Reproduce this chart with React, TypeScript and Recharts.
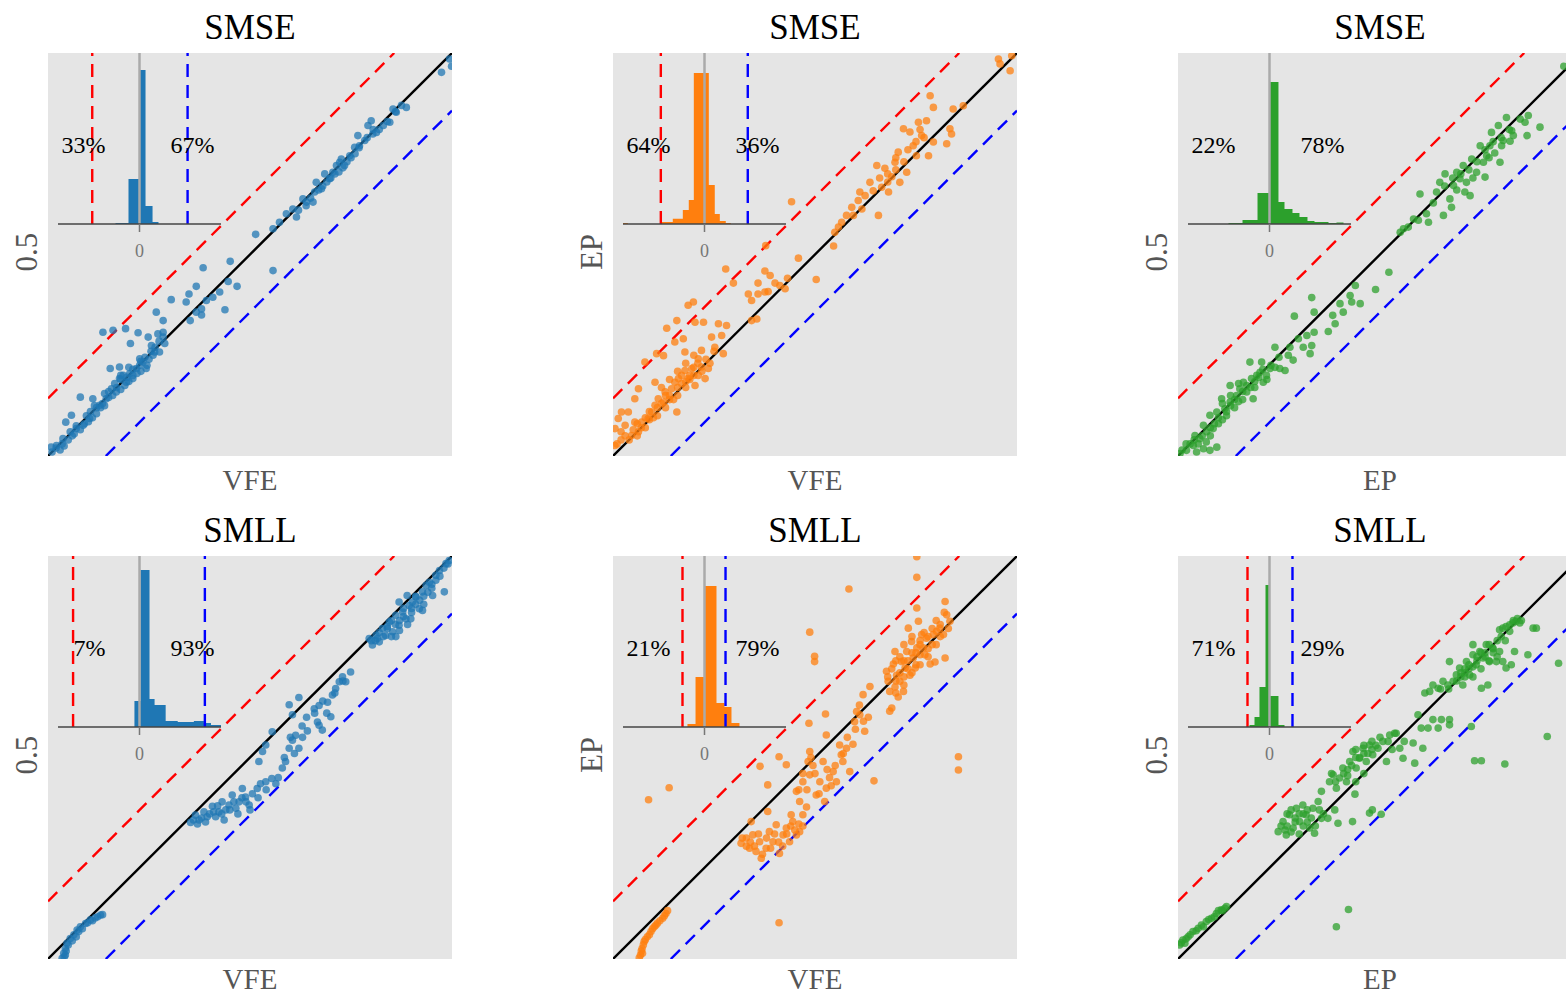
import { Area, ComposedChart, ReferenceLine, Scatter, ScatterChart, XAxis, YAxis } from 'recharts';

const BAND = 14.3;

const rowTitles = ['SMSE', 'SMLL'];
const xLabels = ['VFE', 'VFE', 'EP'];
const yLabels = ['0.5', 'EP', '0.5'];

const smseShares = [
  [33, 67],
  [64, 36],
  [22, 78],
];
const smllShares = [
  [7, 93],
  [21, 79],
  [71, 29],
];

// histogram bins of the inset: [from, to, height], x in [-1, 1], height in [0, 1]
const smseBlueHist = [[-0.294, -0.135, 0.006], [-0.135, 0, 0.263], [0, 0.074, 0.9], [0.074, 0.16, 0.105], [0.16, 0.233, 0.012]];
const smseOrangeHist = [
  [-1, -0.94, 0.006], [-0.524, -0.389, 0.012], [-0.389, -0.266, 0.03], [-0.266, -0.193, 0.082], [-0.193, -0.131, 0.14],
  [-0.131, 0.053, 0.883], [0.053, 0.126, 0.228], [0.126, 0.188, 0.058], [0.188, 0.261, 0.018], [0.261, 0.323, 0.006],
];
const smseGreenHist = [
  [-0.503, -0.331, 0.006], [-0.331, -0.147, 0.023], [-0.147, 0, 0.181], [0, 0.11, 0.83], [0.11, 0.184, 0.129],
  [0.184, 0.282, 0.088], [0.282, 0.368, 0.064], [0.368, 0.466, 0.041], [0.466, 0.552, 0.018], [0.552, 0.724, 0.012],
  [0.724, 0.822, 0.006], [0.822, 0.908, 0.009],
];
const smllBlueHist = [
  [-0.062, 0.012, 0.152], [0.012, 0.123, 0.918], [0.123, 0.185, 0.164], [0.185, 0.321, 0.129], [0.321, 0.469, 0.035],
  [0.469, 0.667, 0.029], [0.667, 0.79, 0.035], [0.79, 0.877, 0.023], [0.877, 1, 0.012],
];
const smllOrangeHist = [[-0.209, -0.11, 0.018], [-0.11, 0, 0.292], [0, 0.147, 0.825], [0.147, 0.245, 0.14], [0.245, 0.331, 0.117], [0.331, 0.429, 0.023]];
const smllGreenHist = [[-0.245, -0.184, 0.012], [-0.184, -0.123, 0.058], [-0.123, -0.049, 0.234], [-0.049, 0, 0.83], [0, 0.11, 0.181], [0.11, 0.184, 0.012]];

// dashed thresholds inside the insets
const smseBlueCuts = [-0.58, 0.59];
const smseOrangeCuts = [-0.536, 0.531];
const smseGreenCuts: number[] = [];
const smllBlueCuts = [-0.815, 0.802];
const smllOrangeCuts = [-0.27, 0.258];
const smllGreenCuts = [-0.27, 0.282];

const smseBluePts = [
  [0.8, 2.2], [2.1, 2.6], [3.7, 4.3], [4.4, 8.4], [5.8, 10.1], [7, 6.8], [8.7, 7.6], [10.3, 9.3], [11.1, 14.2], [12.8, 12.6],
  [14.4, 14.2], [15.7, 16.7], [16.9, 15.9], [17.7, 19.2], [18.6, 20], [19.4, 18.3], [20.2, 20.4], [21, 19.2], [21.9, 21.7],
  [22.7, 22.5], [23.5, 23.3], [24.3, 21.7], [8, 14.6], [15.4, 21.7], [17.7, 22.1], [13.6, 30.7], [16.1, 31.2], [19.2, 31.6],
  [22.3, 30.6], [20.4, 27.9], [24.8, 29.5], [26.8, 35.7], [28.5, 33.6], [27.2, 30.3], [28.5, 30.7], [25.6, 27.4], [27.6, 25.8],
  [28.9, 27.9], [26.4, 25.8], [22.7, 24.1], [1, 1], [3, 1.5], [4, 2.5], [5, 4], [6, 5], [9, 8], [12, 10.5], [13, 12], [18, 16.5],
  [19, 17.5], [21, 20], [23, 21], [25, 24], [26, 25], [11, 9.5], [14, 12.5], [16, 15], [20, 18.5], [6.5, 5.5], [10, 8.5],
  [2, 2], [3.5, 3], [5.5, 6], [7, 7.5], [8, 6.5], [9.5, 10], [10.5, 11], [12, 12], [13.5, 13], [15, 14.5], [15, 16], [17, 17],
  [18, 19], [19.5, 19.5], [21, 21.5], [22, 20.5], [23, 23.5], [24, 24.5], [25.5, 26], [24.5, 22.5], [20, 22], [18, 20],
  [16.5, 18], [14, 15.5], [11.5, 12.5], [26.5, 27], [27.5, 28.5], [28.5, 29.5],
  [30.5, 38.8], [34.2, 38.2], [34.9, 40.2], [36.7, 42.1], [38.4, 46.7], [45.1, 48.3], [44.6, 43.3], [46.8, 42.1], [42.5, 40.7],
  [40.8, 39.4], [39.2, 38.6], [38, 36.5], [36.7, 35.7], [35.2, 33.6], [38, 35], [43.8, 36.3], [55.7, 46], [51.4, 55],
  [55.7, 56.4], [57.3, 58], [59, 60.1], [61.5, 59.3], [60.6, 61.3], [63.1, 63.8], [63.9, 62.1], [65.6, 63], [66.4, 67.9],
  [67.7, 66.3], [68.5, 70], [69.7, 68.8], [70.5, 70.4], [71.4, 72.1], [72.2, 72.9], [72.6, 73.7], [73.4, 72.1], [74.7, 74.5],
  [75.9, 76.6], [76.7, 79.5], [77.1, 77], [78.4, 78.3], [79.2, 82], [80, 83.2], [80.4, 79.9], [81.3, 80.3], [84.6, 82.8],
  [85.4, 86.1], [86.2, 85.3], [88.7, 86.5], [97.4, 95.2], [99.4, 98.5], [99.9, 96.7], [65, 64], [68, 67], [70, 69], [72, 70.5],
  [74, 73], [76, 75], [82, 81], [84, 83], [67, 66], [69, 68], [71, 70], [73, 71.5], [75, 74], [77, 76.5], [79, 79], [80.5, 81],
  [83, 82], [86, 85.5], [87.5, 87], [62, 61], [64, 63], [66, 65.5],
];

const smseOrangePts = [
  [0.5, 2.6], [0.5, 6.8], [1.3, 9.3], [2.1, 10.9], [3.8, 10.9], [5.4, 14.2], [3, 7.6], [4.6, 5.1], [6.3, 6], [7.1, 8.4],
  [8.7, 9.3], [9.6, 10.9], [10.4, 12.6], [11.2, 14.2], [12.5, 13.4], [12.9, 15.9], [14.5, 16.7], [15.3, 18.3], [16.2, 19.2],
  [17, 20], [17.8, 21.2], [18.6, 19.2], [19.5, 21.7], [20.3, 17.5], [21.1, 20], [21.9, 22.1], [22.8, 19.2], [23.6, 21.7],
  [15.8, 10.9], [10.4, 18.3], [7.9, 23.3], [10.8, 25.4], [12.5, 24.9], [15.3, 28.3], [17.4, 29.1], [13.3, 31.7], [15.8, 33.6],
  [17.8, 25.8], [20.3, 33.2], [22.4, 33.2], [19.9, 38.2], [18.6, 37.4], [21.1, 24.1], [21.9, 26.2], [24.4, 29.5], [26.1, 32.8],
  [26.9, 29.9], [28.1, 32.4], [25.2, 27], [27.3, 25.4], [6.3, 16.7], [5.4, 8.4], [2, 4], [4, 4], [6, 5], [8, 7], [9, 9],
  [11, 10], [13, 12], [14, 14], [16, 15], [18, 17], [19, 19], [20, 20],
  [1, 3], [2, 6], [3, 5], [5, 6.5], [6, 8], [7, 7], [8, 9.5], [9, 11], [10, 9.5], [11, 12], [12, 13], [13, 15], [14, 15],
  [15, 14], [16, 17], [17, 18], [18, 18.5], [19, 20], [20, 22], [21, 23], [22, 21], [23, 24], [24, 23], [25, 26], [12, 17],
  [14, 19], [16, 21], [18, 23], [20, 25],
  [27.9, 46.4], [29.8, 42.9], [34.3, 33.6], [35.6, 34], [33.5, 40.2], [34.3, 38.6], [35.9, 40.2], [35.9, 42.9], [37.6, 45.9],
  [38.9, 44.8], [37.6, 40.7], [38.4, 40.8], [40.1, 42.9], [41.3, 42.3], [42.6, 41.5], [43.2, 44.1], [45.9, 49.1], [50.3, 43.8],
  [37.8, 52.2], [44.2, 63.1],
  [54.6, 52.1], [54.9, 55.5], [55.8, 56.8], [56.6, 58], [57.8, 59.7], [59.1, 61.7], [59.5, 59.7], [60.7, 63.4], [61.6, 61.3],
  [61.1, 65.5], [62.4, 64.6], [63.6, 67.9], [64.4, 65.8], [65.3, 72.1], [65.7, 59.7], [66.5, 66.7], [67.3, 71.4], [68.2, 65.5],
  [69, 69.3], [69.8, 72.9], [70.6, 75.4], [71, 67.9], [71.9, 81.2], [72.7, 70.4], [73.5, 80.4], [74.3, 77], [75.1, 74.5],
  [75.6, 82.8], [76.4, 79.5], [77.6, 83.2], [78.5, 89.4], [79.3, 86.5], [79.3, 77.9], [78.1, 74.5], [82.6, 77.5], [83.4, 81.2],
  [83.8, 79.9], [84.2, 86.1], [86.7, 86.9], [95.4, 98.5], [95.8, 97.3], [98.3, 95.6], [98.7, 99.3],
  [66, 69], [68, 68], [70, 71], [72, 73], [73, 76], [75, 78], [76, 81], [77, 79], [70, 74], [68, 70],
];

const smseGreenPts = [
  [0.5, 0.6], [2.1, 1.4], [3.8, 2.6], [4.6, 1], [6.3, 1.8], [7.9, 1.4], [9.6, 2.2], [5.4, 4.3], [4.2, 5.1], [7.1, 6], [6.3, 7.6],
  [8.7, 6.8], [7.9, 10.1], [9.6, 10.9], [10.8, 14.2], [11.6, 11.7], [12.9, 13.4], [12.9, 17.5], [14.5, 15], [15.3, 16.7],
  [16.2, 18.3], [17, 15.9], [18.2, 19.2], [18.6, 14.2], [19.5, 20], [20.3, 20.8], [21.1, 18.3], [21.9, 20], [22.8, 21.7],
  [20.7, 23.3], [17.8, 23.3], [24, 27], [25.2, 21.7], [26.5, 21.2], [27.3, 25], [27.7, 27], [28.5, 23.8], [29.8, 29.1],
  [31, 27], [31.9, 29.9], [32.7, 25.4], [33.1, 27.4], [33.7, 30.7], [37.2, 30.9], [28.8, 34.7], [33.1, 39.3], [33.7, 35.7],
  [38.3, 34.9], [38.9, 32.8], [40.1, 37.8], [40.9, 35.7], [42.6, 39.8], [43, 38.2], [43.9, 42.3], [45.1, 37.8], [48.9, 41.3],
  [52.2, 45.6], [3, 3], [5, 3], [8, 5], [10, 8], [12, 10], [14, 12], [16, 14], [19, 17],
  [1, 1.5], [2, 3], [4, 4], [6, 5], [7, 3.5], [8, 7], [9, 8], [10, 9.5], [11, 9], [12, 11], [13, 12.5], [14, 14], [15, 13.5],
  [16, 16], [17, 17.5], [18, 17], [19, 18.5], [20, 19.5], [21, 21.5], [22, 19], [23, 22.5], [24, 22], [25, 24.5], [11, 13],
  [13, 15], [15, 18],
  [55, 55.5], [55.8, 56.4], [57, 56.8], [58.3, 58.8], [59.5, 58.5], [59.9, 65], [62, 58], [61.5, 60.1], [63.2, 62.8],
  [64, 65.5], [64.8, 67.9], [65.7, 59.7], [66.1, 70], [67.3, 63.8], [67.7, 61.7], [68.2, 67.1], [69, 70.4], [69.8, 68.8],
  [70.6, 72.1], [71, 65.5], [71.4, 67.9], [72.3, 64.6], [72.7, 73.7], [73.9, 70.4], [74.8, 77], [75.6, 72.9], [76, 69.2],
  [76.4, 74.5], [77.2, 77], [77.6, 80.3], [78.4, 75.2], [79.3, 82], [79.7, 72.9], [80.1, 77], [80.5, 78.3], [81.3, 84],
  [82.2, 78.1], [82.6, 80.7], [83, 79.5], [84.7, 83.6], [85.9, 82.8], [86.4, 79.5], [86.7, 84.5], [89.6, 81.6], [95.5, 96.7],
  [66, 67], [68, 69], [70, 70], [72, 71], [74, 73], [76, 76], [78, 78], [80, 79], [82, 81], [69, 66], [73, 69], [77, 74],
];

const smllBluePts = [
  [3.5, 0.2], [3.9, 1.4], [4.3, 2.6], [4.7, 3.9], [5.5, 5.1], [6.4, 6], [7.2, 7.2], [8, 8], [9.3, 8.8], [10.5, 9.7],
  [11.7, 10.2], [13, 10.9], [7.6, 6.8], [4.3, 1], [4, 0.5], [4.5, 2], [5, 3.5], [6, 4.5], [7, 5.5], [8.5, 7.5], [9.8, 9],
  [11, 9.5], [12.3, 10.5], [13.5, 11],
  [35.3, 33.9], [36.5, 35.7], [37.4, 34.5], [38.6, 36.5], [39.4, 35.3], [40.7, 37.9], [41.5, 35.3], [42.3, 36.5], [43.1, 39],
  [43.6, 34.5], [44.8, 38.2], [45.6, 40.7], [46.5, 37.4], [47.3, 39], [48.1, 42.3], [48.9, 40.2], [49.8, 38.2], [50.6, 41],
  [51.8, 42.3], [52.6, 43.5], [53.9, 44], [55.4, 44.8], [56.4, 43.5], [52.2, 49], [53.1, 51.5], [53.9, 53.1], [55.5, 56.4],
  [58, 47.4], [58.8, 49], [59.7, 52.3], [60.5, 54.3], [61.3, 55.5], [62.1, 52.3], [62.9, 57.8], [64.2, 56.6], [59.7, 63.1],
  [60.5, 60.6], [62.1, 64.9], [65.9, 62.1], [66.7, 58.8], [67.1, 62.9], [67.9, 56.8], [69.2, 63.7], [70, 60.1], [70.4, 65.5],
  [71.2, 67.1], [72.1, 68.8], [72.9, 70], [73.7, 68.8], [74.9, 71.2], [67.1, 58], [38, 35], [40, 36], [42, 38], [44, 37],
  [46, 39], [48, 40], [36, 34.5], [37, 33.5], [39, 34], [41, 36.5], [43, 36], [45, 37], [47, 36], [49, 39], [50, 37], [52, 40],
  [54, 42], [57, 45], [58.5, 50], [60, 55], [61, 51], [63, 55], [64, 60], [66, 61], [68, 64], [69, 61], [71, 66], [73, 69],
  [79.5, 79.5], [80.3, 77.9], [81.2, 80.3], [82, 78.7], [82.8, 82], [83.6, 80.3], [84.5, 83.6], [85.3, 81.2], [86.1, 85.3],
  [86.1, 80], [86.9, 82.8], [87.8, 86.1], [88.6, 84.4], [89.4, 87.7], [89.8, 84.4], [90.2, 88.6], [91.1, 89.8], [91.9, 86.9],
  [92.7, 91.1], [92.7, 86.5], [93.6, 92.7], [94.4, 93.5], [95.2, 90.2], [96, 95.2], [96.9, 96.4], [98.1, 91.1], [98.5, 98.1],
  [99.3, 98.9], [86.9, 88.6], [88.9, 90.2], [81, 79], [84, 82], [87, 84], [90, 87], [93, 90], [95, 93], [80, 79], [81.5, 79.5],
  [83, 80], [84, 82.5], [85, 80], [86, 83], [87, 81.5], [88, 85], [89, 83], [90, 86], [91, 88], [92, 89], [93, 88], [94, 91],
  [95, 92], [96, 94], [97, 95], [98, 97], [99, 98], [82, 81], [85, 84], [88, 87], [91, 90],
];

const smllOrangePts = [
  [6.5, 0.3], [7.2, 2.6], [7.7, 4.3], [8.5, 5.5], [9.4, 6.8], [10.2, 8], [11, 8.9], [12.3, 10.1], [13.1, 11.3], [7.3, 1.4],
  [6.8, 1], [7, 2], [7.5, 3.5], [8, 4.8], [9, 6], [9.8, 7.5], [10.6, 8.4], [11.6, 9.5], [12.7, 10.7], [13.5, 12],
  [8.8, 39.5], [13.9, 42.5], [41.1, 9], [48.7, 81.1], [49.9, 75.1], [49.9, 73.8], [58.4, 91.8], [75.2, 99.8], [75.2, 94.7],
  [75.2, 87.1], [85.5, 50.2], [85.5, 46.9], [64.6, 44.2],
  [31.7, 28.7], [33, 30], [33.8, 27.5], [34.6, 30.8], [35.4, 26.7], [36.3, 29.1], [36.7, 25], [37.9, 27.5], [38.7, 31.6],
  [39.6, 29.1], [40.4, 33.3], [41.2, 26.2], [42.1, 30.8], [42.9, 32.5], [43.7, 29.1], [44.5, 34.1], [45.4, 30.8], [46.2, 31.6],
  [47, 35.8], [34.2, 34.1], [38.3, 36.6], [44.1, 35.8], [32, 30], [33, 28], [34, 29], [35, 28], [36, 31], [37, 26], [38, 30],
  [39, 27.5], [40, 31], [41, 29], [42, 28], [43, 31], [44, 33], [45, 32], [46, 33.5], [47, 33],
  [45.4, 41.6], [46.2, 39.1], [47, 44], [47.9, 37.7], [48.7, 45.7], [48.3, 49], [48.7, 51.5], [49.5, 48], [50.3, 40.7],
  [51.2, 44], [52, 49], [52.4, 39.1], [52.8, 42.4], [53.6, 45], [54.5, 46.5], [55.3, 44], [52.8, 55.6], [56.1, 53.1],
  [56.5, 50.7], [56.9, 49], [57.8, 52.3], [58.6, 46.5], [59.4, 53.3], [59.8, 58.9], [60.3, 61.4], [61.1, 60.6], [61.9, 65.6],
  [62.3, 56.5], [63.6, 67.6], [63.2, 60], [52.6, 60.8], [48.5, 58.5], [42.9, 48.2], [38.3, 43.2], [36.4, 47.8], [41.1, 50.2],
  [46, 42], [47, 46], [48, 42], [49, 50], [50, 46], [51, 41], [53, 47], [54, 43], [55, 48], [57, 51], [58, 55], [60, 57],
  [61, 63], [62, 59],
  [67.7, 71.4], [68.1, 68.9], [68.5, 66.4], [69, 62.3], [69.4, 73.2], [69.8, 76.3], [70.2, 70.4], [71, 68.9], [71.4, 73.8],
  [71.9, 66.4], [72.3, 72.2], [72.7, 76.3], [73.1, 82.1], [73.5, 70.4], [73.9, 78.8], [74.3, 74.7], [74.8, 72.2], [75.2, 77.2],
  [75.6, 83.8], [76, 75.5], [76.4, 80.5], [76.8, 77.2], [77.2, 75.5], [77.6, 79.6], [78.5, 73.2], [79.3, 80.5], [79.7, 73.7],
  [80.1, 81.3], [80.9, 82.1], [81.8, 80.5], [82.2, 88.7], [82.6, 85.4], [83.4, 83.8], [82.2, 74.7], [69.8, 67.5], [70.6, 65],
  [68.5, 61.5], [71, 71], [72, 74], [73, 72], [74, 76], [75, 73], [76, 78], [78, 77], [79, 78], [81, 80], [83, 82],
  [68, 70], [69, 72], [70, 74], [70, 69], [71, 75], [72, 70], [72, 78], [73, 74], [74, 80], [74, 71], [75, 76], [76, 79],
  [77, 81], [78, 80], [79, 82], [80, 84], [81, 83], [82, 86], [80, 78], [78, 75], [76, 73], [70, 66], [72, 68],
];

const smllGreenPts = [
  [0.4, 3.5], [1.2, 4.7], [2.5, 5.5], [3.7, 6.8], [5, 7.6], [5.8, 8.4], [7, 9.3], [8.3, 10.1], [9.5, 11.3], [10.7, 12.2],
  [11.6, 12.6], [1.7, 3.9], [0.8, 4], [2, 5], [3, 6], [4.5, 7], [6.3, 8], [7.6, 9.8], [9, 10.5], [10, 12], [11, 12], [12, 13],
  [39.2, 8], [42.2, 12.3], [91.4, 55.2], [73.4, 49.2], [75.1, 49.2], [80.9, 48.4], [94.2, 73.4],
  [24.8, 31.6], [26, 34.1], [26.8, 30.8], [27.6, 35.8], [28.5, 32.5], [29.3, 37.4], [30.1, 34.1], [30.9, 38.2], [31.7, 35.8],
  [32.6, 32.5], [33.4, 37.4], [33.8, 31.2], [34.7, 39.1], [35.5, 34.9], [37.1, 34.9], [39.6, 33.7], [38.8, 37], [35.5, 41.6],
  [27, 33], [29, 35], [31, 36], [32, 34], [25.5, 33], [26.5, 32], [27, 36], [28, 31.5], [29, 34], [30, 36], [31, 33], [32, 37],
  [33, 35], [34, 33], [35, 37], [36, 36], [28, 37], [30, 31],
  [37.5, 44], [38.4, 45.7], [39.2, 42.4], [40, 44.9], [40.8, 47.4], [41.7, 44], [42.5, 49], [43.3, 51.5], [44.1, 47.4],
  [44.9, 49.8], [45.8, 52.3], [46.6, 49], [47.4, 53.1], [48.2, 50.7], [49.5, 52.3], [50.7, 54], [51.6, 49], [52.4, 55.6],
  [53.6, 56], [54.9, 52.3], [55.7, 49.8], [58.2, 53.6], [58.6, 48.6], [43.8, 40.9], [47.4, 36.2], [50.3, 35.9], [48.1, 37],
  [43.2, 34.1], [42, 47], [44, 50], [46, 51], [48, 52], [38, 46], [39, 44], [41, 46], [42, 45.5], [43, 48], [44, 52], [45, 50],
  [46, 53], [47, 51], [48, 54], [49, 53], [50, 55], [52, 54], [53, 52], [54, 56], [56, 54], [44, 44], [46, 46],
  [59.4, 60.6], [60.2, 57.3], [60.6, 52.3], [61.9, 57.3], [63.1, 59.4], [64.4, 57.3], [65.2, 59.4], [67.2, 59.4], [67.2, 58.1],
  [72.6, 57.7],
  [61.1, 66], [62.3, 66.4], [63.1, 68], [64.4, 67.2], [65.6, 68.9], [66.8, 68], [67.2, 73.8], [68.1, 68.9], [68.9, 70.5],
  [69.7, 72.2], [70.5, 68], [71.4, 73.8], [72.2, 70.5], [73, 78], [73, 75.5], [73.8, 73], [74.7, 76.3], [75.5, 74.7],
  [75.1, 67.2], [76.3, 78], [76.7, 68], [77.1, 73.8], [77.9, 77.2], [78.8, 73.8], [79.6, 76.3], [80.4, 73.8], [81.2, 72.2],
  [82.5, 73], [83.3, 76.3], [79.6, 81.7], [80.4, 82.1], [81.2, 82.5], [82.1, 82.9], [82.9, 83.4], [83.7, 83.8], [84.6, 83.4],
  [86.6, 75.5], [87.9, 82.1], [88.7, 82.1], [82.1, 81.3], [70, 71], [71, 71], [72, 72], [74, 74], [76, 75], [78, 76],
  [70, 70], [71, 72], [72, 73], [73, 72.5], [74, 75], [75, 76], [76, 76], [77, 78], [78, 77], [79, 79], [80, 80], [81, 79],
  [79, 75], [77, 74], [75, 72], [73, 70], [71, 70], [69, 69], [67, 67], [65, 67], [83, 84], [84, 84.5], [85, 84],
];

const FONT = '"Liberation Serif", "DejaVu Serif", serif';
const PLOT_W = 404;
const PLOT_H = 403;
const INSET_W = 163;
const INSET_H = 171;
const colLeft = [48, 613, 1178];
const rowTop = [53, 556];
const xLabelDrop = [428, 424];
const palette = ['#1f77b4', '#ff7f0e', '#2ca02c'];

const panels = [
  { pts: smseBluePts, hist: smseBlueHist, cuts: smseBlueCuts, share: smseShares[0] },
  { pts: smseOrangePts, hist: smseOrangeHist, cuts: smseOrangeCuts, share: smseShares[1] },
  { pts: smseGreenPts, hist: smseGreenHist, cuts: smseGreenCuts, share: smseShares[2] },
  { pts: smllBluePts, hist: smllBlueHist, cuts: smllBlueCuts, share: smllShares[0] },
  { pts: smllOrangePts, hist: smllOrangeHist, cuts: smllOrangeCuts, share: smllShares[1] },
  { pts: smllGreenPts, hist: smllGreenHist, cuts: smllGreenCuts, share: smllShares[2] },
];

const toSteps = (bins: number[][]) => {
  const out: { x: number; h: number }[] = [];
  bins.forEach(([x0, x1, h], i) => {
    out.push({ x: x0, h });
    const next = bins[i + 1];
    if (!next || next[0] !== x1) out.push({ x: x1, h: 0 });
  });
  return out;
};

// line drawn by hand so the stroke width is surely kept
const strokeShape = (stroke: string, width: number, dash?: string) => (p: any) =>
  <line x1={p.x1} y1={p.y1} x2={p.x2} y2={p.y2} stroke={stroke} strokeWidth={width} strokeDasharray={dash} fill="none" />;

const Txt = ({ x, y, size, color = '#000', shift = '-50%', rotate = false, children }: any) => (
  <div
    style={{
      position: 'absolute',
      left: x,
      top: y,
      fontFamily: FONT,
      fontSize: size,
      color,
      lineHeight: 0.75,
      whiteSpace: 'nowrap',
      transform: `translate(${shift}, -50%)${rotate ? ' rotate(-90deg)' : ''}`,
    }}
  >
    {children}
  </div>
);

const Panel = ({ index }: { index: number }) => {
  const row = Math.floor(index / 3);
  const col = index % 3;
  const left = colLeft[col];
  const top = rowTop[row];
  const color = palette[col];
  const { pts, hist, cuts, share } = panels[index];
  const data = pts.map(([x, y]) => ({ x, y }));
  const insetLeft = left + 9.5;

  return (
    <>
      <Txt x={left + PLOT_W / 2} y={top - 25} size={35}>
        {rowTitles[row]}
      </Txt>
      <Txt x={left + PLOT_W / 2} y={top + xLabelDrop[row]} size={29} color="#555">
        {xLabels[col]}
      </Txt>
      <Txt x={left - 21} y={top + 199} size={31} color="#555" rotate>
        {yLabels[col]}
      </Txt>
      <div style={{ position: 'absolute', left, top, width: PLOT_W, height: PLOT_H, background: '#e5e5e5' }}>
        <ScatterChart width={PLOT_W} height={PLOT_H} margin={{ top: 0, right: 0, bottom: 0, left: 0 }}>
          <XAxis type="number" dataKey="x" domain={[0, 100]} hide allowDataOverflow />
          <YAxis type="number" dataKey="y" domain={[0, 100]} hide allowDataOverflow />
          <Scatter
            data={data}
            isAnimationActive={false}
            shape={(p: any) => <circle cx={p.cx} cy={p.cy} r={3.8} fill={color} fillOpacity={0.74} />}
          />
          <ReferenceLine
            segment={[{ x: 0, y: BAND }, { x: 100 - BAND, y: 100 }]}
            shape={strokeShape('#ff0000', 2.4, '13 8')}
          />
          <ReferenceLine
            segment={[{ x: BAND, y: 0 }, { x: 100, y: 100 - BAND }]}
            shape={strokeShape('#0000ff', 2.4, '13 8')}
          />
          <ReferenceLine segment={[{ x: 0, y: 0 }, { x: 100, y: 100 }]} shape={strokeShape('#000', 2.4)} />
        </ScatterChart>
      </div>
      <div style={{ position: 'absolute', left: insetLeft, top }}>
        <ComposedChart width={INSET_W} height={INSET_H + 40} data={toSteps(hist)} margin={{ top: 0, right: 0, bottom: 0, left: 0 }}>
          <XAxis
            type="number"
            dataKey="x"
            domain={[-1, 1]}
            ticks={[0]}
            height={40}
            allowDataOverflow
            axisLine={{ stroke: '#444', strokeWidth: 1.5 }}
            tickLine={{ stroke: '#777', strokeWidth: 1.5 }}
            tickSize={8}
            tickMargin={12}
            tick={{ fill: '#777', fontSize: 18, fontFamily: FONT }}
          />
          <YAxis type="number" domain={[0, 1]} hide />
          <ReferenceLine x={0} shape={strokeShape('#aaa', 2.5)} />
          <Area type="stepAfter" dataKey="h" fill={color} fillOpacity={1} stroke="none" isAnimationActive={false} />
          {cuts.map((c, i) => (
            <ReferenceLine key={c} x={c} shape={strokeShape(i === 0 ? '#ff0000' : '#0000ff', 2.4, '13 8')} />
          ))}
        </ComposedChart>
      </div>
      <Txt x={insetLeft + 48} y={top + 92} size={24} shift="-100%">
        {share[0]}%
      </Txt>
      <Txt x={insetLeft + 113} y={top + 92} size={24} shift="0%">
        {share[1]}%
      </Txt>
    </>
  );
};

const App = () => (
  <div style={{ position: 'fixed', left: 0, top: 0, width: 1566, height: 998, overflow: 'hidden', background: '#fff' }}>
    {panels.map((_, i) => (
      <Panel key={i} index={i} />
    ))}
  </div>
);

export default App;
